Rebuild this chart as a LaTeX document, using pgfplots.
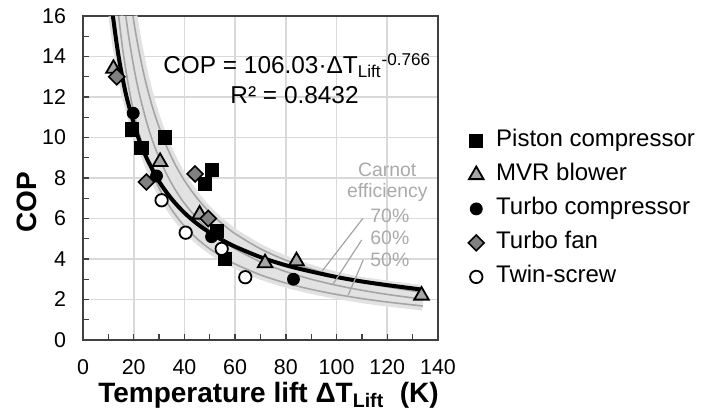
\documentclass[border=0pt]{standalone}
\usepackage{fontspec}
\setmainfont{Liberation Sans}
\usepackage{pgfplots}
\pgfplotsset{compat=1.18}
\definecolor{gridc}{RGB}{217,217,217}
\definecolor{bandc}{RGB}{226,226,226}
\definecolor{carc}{RGB}{165,165,165}
\definecolor{txtc}{RGB}{170,170,170}
\definecolor{trif}{RGB}{166,166,166}
\definecolor{diaf}{RGB}{128,128,128}
\definecolor{axc}{RGB}{64,64,64}
\begin{document}
\begin{tikzpicture}
\useasboundingbox (0,0) rectangle (351pt,206pt);
\begin{axis}[
  at={(41.5pt,36pt)}, anchor=south west,
  scale only axis, width=177.5pt, height=162pt,
  xmin=0, xmax=140, ymin=0, ymax=16,
  xtick={0,20,...,140}, minor xtick={10,30,...,130},
  ytick={0,2,...,16}, minor ytick={1,3,...,15},
  tick align=inside, tick pos=left,
  major tick length=3pt, minor tick length=3pt,
  tick style={axc, line width=0.7pt},
  grid=major, major grid style={gridc, line width=0.9pt},
  minor grid style={draw=none},
  axis line style={axc, line width=0.8pt},
  ticklabel style={font=\fontsize{10.7}{12}\selectfont},
  /pgf/number format/assume math mode=true,
  yticklabel style={xshift=-5pt},
  xticklabel style={yshift=-6pt},
  xlabel={\textbf{Temperature lift ΔT\textsubscript{Lift}~~(K)}},
  ylabel={\textbf{COP}},
  xlabel style={at={(axis description cs:0.5225,-0.194)}, anchor=base, font=\fontsize{14}{16}\selectfont},
  ylabel style={at={(axis description cs:-0.158,0.426)}, anchor=center, font=\fontsize{14}{16}\selectfont},
  legend style={at={(1.0675,0.4046)}, anchor=west, draw=none, fill=none,
    font=\fontsize{12}{14}\selectfont, row sep=5pt,
    nodes={inner sep=0pt, text height=9pt, text depth=3pt},
    /tikz/every odd column/.append style={column sep=6pt}},
  legend cell align=left,
  legend image code/.code={\draw[mark repeat=1,#1] plot coordinates {(0cm,0cm)};},
]
% band between Carnot curves
\addplot[draw=none, fill=bandc, forget plot] coordinates {
(19.69,16) (21,15) (23,13.70) (25,12.6) (28,11.25) (32,9.84) (36,8.75) (40,7.875) (45,7.0) (50,6.3) (55,5.73) (60,5.25) (70,4.5) (80,3.94) (90,3.5) (100,3.15) (110,2.86) (120,2.625) (134,2.35)
(134,1.679) (120,1.875) (110,2.045) (100,2.25) (90,2.5) (80,2.8125) (70,3.214) (60,3.75) (55,4.09) (50,4.5) (45,5) (40,5.625) (36,6.25) (32,7.03) (28,8.04) (25,9) (22,10.23) (20,11.25) (18,12.5) (16,14.06) (15,15) (14.0625,16)
} -- cycle;
% halos
\addplot[bandc, line width=4.5pt, smooth, forget plot] coordinates {(19.69,16) (21,15) (23,13.70) (25,12.6) (28,11.25) (32,9.84) (36,8.75) (40,7.875) (45,7.0) (50,6.3) (55,5.73) (60,5.25) (70,4.5) (80,3.94) (90,3.5) (100,3.15) (110,2.86) (120,2.625) (134,2.35)};
\addplot[bandc, line width=4.5pt, smooth, forget plot] coordinates {(14.0625,16) (15,15) (16,14.06) (18,12.5) (20,11.25) (22,10.23) (25,9) (28,8.04) (32,7.03) (36,6.25) (40,5.625) (45,5) (50,4.5) (55,4.09) (60,3.75) (70,3.214) (80,2.8125) (90,2.5) (100,2.25) (110,2.045) (120,1.875) (134,1.679)};
\addplot[bandc, line width=4.5pt, smooth, forget plot] coordinates {(11.8,16.0) (12,15.80) (13,14.87) (14,14.04) (15,13.32) (17,12.10) (20,10.69) (22,9.93) (25,9.01) (30,7.83) (35,6.96) (40,6.28) (45,5.74) (50,5.30) (55,4.93) (60,4.61) (70,4.09) (80,3.69) (90,3.38) (100,3.11) (110,2.89) (120,2.71) (133,2.50)};
% data
\addplot[only marks, mark=square*, mark size=3.3pt, mark options={fill=black, draw=black}] coordinates {
(19.2,10.4) (23,9.5) (32.3,10.0) (50.7,8.4) (48,7.7) (52.7,5.4) (56,4.0)};
\addlegendentry{Piston compressor}
\addplot[only marks, mark=triangle*, mark size=4.2pt, mark options={fill=trif, draw=black, line width=0.9pt}] coordinates {
(12,13.4) (30.4,8.8) (46,6.2) (71.8,3.8) (84.2,3.9) (133.5,2.2)};
\addlegendentry{MVR blower}
\addplot[only marks, mark=*, mark size=3pt, mark options={fill=black, draw=black}] coordinates {
(19.8,11.2) (29,8.1) (50.7,5.1) (83,3.0)};
\addlegendentry{Turbo compressor}
\addplot[only marks, mark=square*, mark size=2.8pt, mark options={fill=diaf, draw=black, rotate=45, line width=0.8pt}] coordinates {
(13.3,13.0) (25,7.8) (44.2,8.2) (49.4,6.0)};
\addlegendentry{Turbo fan}
\addplot[only marks, mark=*, mark size=3.1pt, mark options={fill=white, draw=black, line width=0.9pt}] coordinates {
(31,6.9) (40.5,5.3) (54.7,4.5) (64,3.1)};
\addlegendentry{Twin-screw}
% Carnot lines
\addplot[carc, line width=0.8pt, smooth, forget plot] coordinates {(19.69,16) (21,15) (23,13.70) (25,12.6) (28,11.25) (32,9.84) (36,8.75) (40,7.875) (45,7.0) (50,6.3) (55,5.73) (60,5.25) (70,4.5) (80,3.94) (90,3.5) (100,3.15) (110,2.86) (120,2.625) (134,2.35)};
\addplot[carc, line width=0.8pt, smooth, forget plot] coordinates {(16.875,16) (18,15) (20,13.5) (22,12.27) (25,10.8) (28,9.64) (32,8.44) (36,7.5) (40,6.75) (45,6) (50,5.4) (55,4.91) (60,4.5) (70,3.857) (80,3.375) (90,3) (100,2.7) (110,2.455) (120,2.25) (134,2.015)};
\addplot[carc, line width=0.8pt, smooth, forget plot] coordinates {(14.0625,16) (15,15) (16,14.06) (18,12.5) (20,11.25) (22,10.23) (25,9) (28,8.04) (32,7.03) (36,6.25) (40,5.625) (45,5) (50,4.5) (55,4.09) (60,3.75) (70,3.214) (80,2.8125) (90,2.5) (100,2.25) (110,2.045) (120,1.875) (134,1.679)};
% fit line
\addplot[black, line width=2pt, smooth, forget plot] coordinates {(11.8,16.0) (12,15.80) (13,14.87) (14,14.04) (15,13.32) (17,12.10) (20,10.69) (22,9.93) (25,9.01) (30,7.83) (35,6.96) (40,6.28) (45,5.74) (50,5.30) (55,4.93) (60,4.61) (70,4.09) (80,3.69) (90,3.38) (100,3.11) (110,2.89) (120,2.71) (133,2.50)};
% annotations
\draw[carc, line width=0.6pt] (axis cs:110.4,6.01) -- (axis cs:94.1,3.37);
\draw[carc, line width=0.6pt] (axis cs:109.9,4.94) -- (axis cs:98.4,2.72);
\draw[carc, line width=0.6pt] (axis cs:110.5,3.95) -- (axis cs:104.6,2.22);
\node[txtc, font=\fontsize{9.7}{10.5}\selectfont, align=center] at (axis cs:120,7.78) {Carnot\\efficiency};
\node[txtc, font=\fontsize{9.7}{10.5}\selectfont, anchor=west, inner sep=0pt] at (axis cs:113.2,6.12) {70\%};
\node[txtc, font=\fontsize{9.7}{10.5}\selectfont, anchor=west, inner sep=0pt] at (axis cs:113.2,5.04) {60\%};
\node[txtc, font=\fontsize{9.7}{10.5}\selectfont, anchor=west, inner sep=0pt] at (axis cs:113.2,3.95) {50\%};
\node[font=\fontsize{12.2}{14}\selectfont, anchor=base west, inner sep=0pt] at (axis cs:31.5,13.15) {COP = 106.03·ΔT\textsubscript{Lift}\textsuperscript{-0.766}};
\node[font=\fontsize{12.2}{14}\selectfont, anchor=base west, inner sep=0pt] at (axis cs:58,11.7) {R² = 0.8432};
\end{axis}
\end{tikzpicture}
\end{document}
